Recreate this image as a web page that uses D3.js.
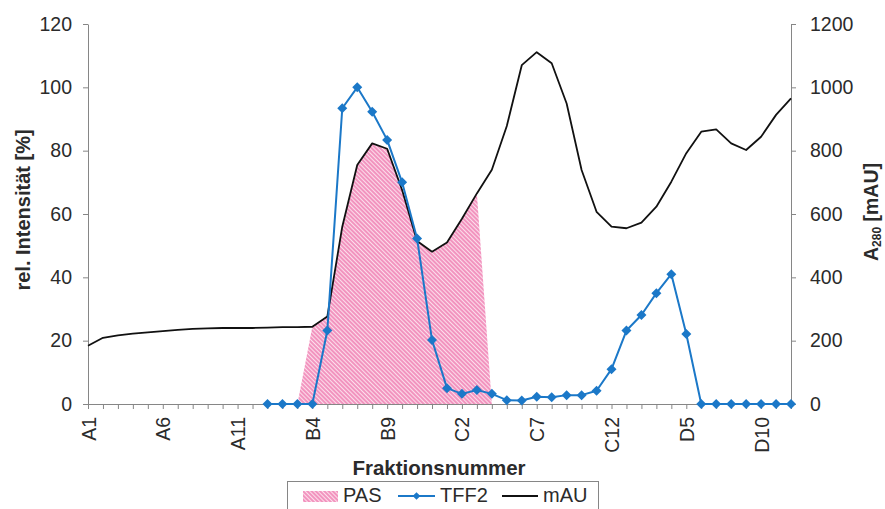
<!DOCTYPE html>
<html>
<head>
<meta charset="utf-8">
<script src="https://cdn.jsdelivr.net/npm/d3@7"></script>
<style>
  html, body { margin: 0; padding: 0; background: #fff; }
  svg { display: block; font-family: "Liberation Sans", Arial, sans-serif; }
</style>
</head>
<body>
<svg id="chart" width="885" height="509"></svg>
<script>
// Fraction labels on the category axis (plate rows A–D, wells 1–12)
const categories = [
  "A1","A2","A3","A4","A5","A6","A7","A8","A9","A10","A11","A12",
  "B1","B2","B3","B4","B5","B6","B7","B8","B9","B10","B11","B12",
  "C1","C2","C3","C4","C5","C6","C7","C8","C9","C10","C11","C12",
  "D1","D2","D3","D4","D5","D6","D7","D8","D9","D10","D11","D12"
];
const tickLabels = ["A1","A6","A11","B4","B9","C2","C7","C12","D5","D10"];
const leftTicks = [0, 20, 40, 60, 80, 100, 120];
const rightTicks = [0, 200, 400, 600, 800, 1000, 1200];

// A280 absorbance [mAU], right axis
const mAU = [
  184, 209, 217, 222, 226, 230, 234, 237, 239, 240, 240, 240,
  241, 243, 243, 244, 276, 560, 755, 823, 806, 676, 515, 481,
  510, 585, 665, 740, 878, 1070, 1111, 1076, 949, 739, 607, 560,
  555, 573, 623, 702, 792, 860, 867, 823, 802, 844, 913, 965
];

// TFF2 relative intensity [%], measured from B1 onwards
const tff2 = [
  null, null, null, null, null, null, null, null, null, null, null, null,
  0, 0, 0, 0, 23.2, 93.4, 100, 92.3, 83.4, 70.0, 52.3, 20.2,
  5.0, 3.2, 4.4, 3.2, 1.2, 1.1, 2.3, 2.1, 2.8, 2.8, 4.2, 11.0,
  23.2, 28.1, 35.0, 41.0, 22.1, 0, 0, 0, 0, 0, 0, 0
];

// PAS staining relative intensity [%]
const pas = [
  null, null, null, null, null, null, null, null, null, null, null, null,
  null, null, 0, 24.4, 27.6, 56.0, 75.5, 82.3, 80.4, 67.6, 51.5, 48.1,
  51.0, 58.5, 66.5, 0, null, null, null, null, null, null, null, null,
  null, null, null, null, null, null, null, null, null, null, null, null
];

const svg = d3.select("#chart");
const axisColor = "#868686";
const textColor = "#2b2b2b";
const blue = "#1b78c8";

const x = d3.scalePoint().domain(categories).range([88, 791]);
const yL = d3.scaleLinear().domain([0, 120]).range([404, 24]);
const yR = d3.scaleLinear().domain([0, 1200]).range([404, 24]);

// Hatched pink fill for the PAS area
const defs = svg.append("defs");
function hatch(id) {
  const p = defs.append("pattern")
    .attr("id", id)
    .attr("patternUnits", "userSpaceOnUse")
    .attr("width", 3).attr("height", 3)
    .attr("patternTransform", "rotate(-45)");
  p.append("rect").attr("width", 3).attr("height", 3).attr("fill", "#f294bf");
  p.append("line").attr("x1", 0.5).attr("y1", 0).attr("x2", 0.5).attr("y2", 3)
    .attr("stroke", "#fde6f0").attr("stroke-width", 0.9);
}
hatch("pasHatch");

// PAS area
const area = d3.area()
  .defined(d => d.v !== null)
  .x(d => x(d.c))
  .y0(yL(0))
  .y1(d => yL(d.v));
svg.append("path")
  .datum(categories.map((c, i) => ({ c, v: pas[i] })))
  .attr("d", area)
  .attr("fill", "url(#pasHatch)");

// Axes
function styleAxis(g) {
  g.select(".domain").attr("stroke", axisColor).attr("stroke-width", 1);
  g.selectAll(".tick line").attr("stroke", axisColor).attr("stroke-width", 1);
  g.selectAll(".tick text").attr("fill", textColor)
    .style("font-size", "19.5px").style("font-family", "'Liberation Sans', Arial, sans-serif");
}

const gx = svg.append("g").attr("transform", "translate(0,404)")
  .call(d3.axisBottom(x).tickSize(5).tickSizeOuter(0)
    .tickFormat(d => tickLabels.includes(d) ? d : ""));
styleAxis(gx);
gx.selectAll(".tick text")
  .attr("transform", "rotate(-90)")
  .attr("text-anchor", "end")
  .attr("x", -13)
  .attr("y", 0)
  .attr("dy", "0.36em");

const gl = svg.append("g").attr("transform", "translate(88,0)")
  .call(d3.axisLeft(yL).tickValues(leftTicks).tickFormat(d3.format("d"))
    .tickSize(5).tickSizeOuter(0).tickPadding(11));
styleAxis(gl);

const gr = svg.append("g").attr("transform", "translate(791,0)")
  .call(d3.axisRight(yR).tickValues(rightTicks).tickFormat(d3.format("d"))
    .tickSize(5).tickSizeOuter(0).tickPadding(14));
styleAxis(gr);

// mAU line
const lineR = d3.line().x((d, i) => x(categories[i])).y(d => yR(d));
svg.append("path")
  .datum(mAU)
  .attr("d", lineR)
  .attr("fill", "none")
  .attr("stroke", "#111")
  .attr("stroke-width", 1.8)
  .attr("stroke-linejoin", "round");

// TFF2 line with diamond markers
const tffPts = categories.map((c, i) => ({ c, v: tff2[i] })).filter(d => d.v !== null);
const lineL = d3.line().x(d => x(d.c)).y(d => yL(d.v));
svg.append("path")
  .datum(tffPts)
  .attr("d", lineL)
  .attr("fill", "none")
  .attr("stroke", blue)
  .attr("stroke-width", 2)
  .attr("stroke-linejoin", "round");

const diamond = d3.symbol().type(d3.symbolSquare).size(50);
svg.append("g").selectAll("path")
  .data(tffPts)
  .join("path")
  .attr("d", diamond)
  .attr("transform", d => `translate(${x(d.c)},${yL(d.v)}) rotate(45)`)
  .attr("fill", blue);

// Axis titles
svg.append("text")
  .attr("transform", "translate(30,210) rotate(-90)")
  .attr("text-anchor", "middle")
  .attr("fill", textColor)
  .style("font-size", "20px").style("font-weight", "bold")
  .text("rel. Intensität [%]");

const rt = svg.append("text")
  .attr("transform", "translate(878,212) rotate(-90)")
  .attr("text-anchor", "middle")
  .attr("fill", textColor)
  .style("font-size", "19.5px").style("font-weight", "bold");
rt.append("tspan").text("A");
rt.append("tspan").attr("dy", 3).style("font-size", "12px").text("280");
rt.append("tspan").attr("dy", -3).text(" [mAU]");

svg.append("text")
  .attr("x", 439).attr("y", 475)
  .attr("text-anchor", "middle")
  .attr("fill", textColor)
  .style("font-size", "20.5px").style("font-weight", "bold")
  .text("Fraktionsnummer");

// Legend
const lg = svg.append("g");
lg.append("rect")
  .attr("x", 287.5).attr("y", 481.5).attr("width", 311).attr("height", 40)
  .attr("fill", "#fff").attr("stroke", axisColor);
lg.append("rect")
  .attr("x", 303).attr("y", 491).attr("width", 35).attr("height", 11)
  .attr("fill", "url(#pasHatch)");
lg.append("text").attr("x", 343).attr("y", 502).attr("fill", textColor)
  .style("font-size", "20px").text("PAS");
lg.append("line").attr("x1", 398).attr("x2", 435).attr("y1", 496).attr("y2", 496)
  .attr("stroke", blue).attr("stroke-width", 2);
lg.append("path").attr("d", d3.symbol().type(d3.symbolSquare).size(30)())
  .attr("transform", "translate(416.5,496) rotate(45)").attr("fill", blue);
lg.append("text").attr("x", 440).attr("y", 502).attr("fill", textColor)
  .style("font-size", "20px").text("TFF2");
lg.append("line").attr("x1", 502).attr("x2", 538).attr("y1", 496).attr("y2", 496)
  .attr("stroke", "#111").attr("stroke-width", 1.8);
lg.append("text").attr("x", 543).attr("y", 502).attr("fill", textColor)
  .style("font-size", "20px").text("mAU");
</script>
</body>
</html>
